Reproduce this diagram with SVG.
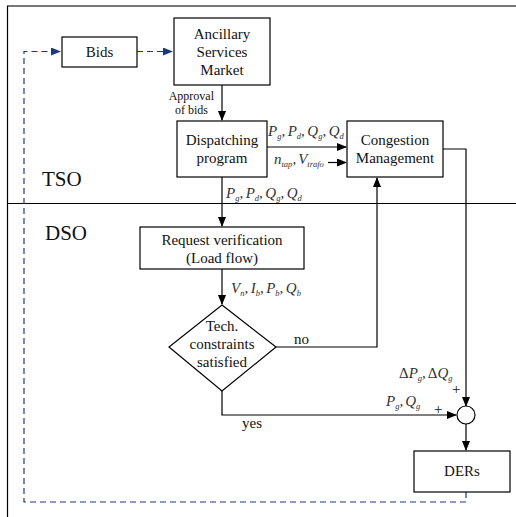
<svg xmlns="http://www.w3.org/2000/svg" width="516" height="517" viewBox="0 0 516 517">
  <style>
    .box { fill: #fff; stroke: #000; stroke-width: 1.2; }
    .line { fill: none; stroke: #000; stroke-width: 1.2; }
    .dash { fill: none; stroke: #1a3a7a; stroke-width: 1.2; stroke-dasharray: 6 4; }
  </style>
  <defs>
    <marker id="arr" markerWidth="10" markerHeight="8" refX="9" refY="4" orient="auto" markerUnits="userSpaceOnUse">
      <path d="M0,0 L10,4 L0,8 Z" fill="#000"/>
    </marker>
    <marker id="arrb" markerWidth="10" markerHeight="8" refX="9" refY="4" orient="auto" markerUnits="userSpaceOnUse">
      <path d="M0,0 L10,4 L0,8 Z" fill="#1a3a7a"/>
    </marker>
  </defs>

  <rect width="516" height="517" fill="#fff"/>

  <!-- frame and TSO / DSO boundary -->
  <g id="frame">
    <line x1="7" y1="6" x2="516" y2="6" stroke="#777" stroke-width="2"/>
    <line x1="7.5" y1="6" x2="7.5" y2="517" stroke="#000" stroke-width="1.2"/>
    <line x1="7" y1="203.5" x2="516" y2="203.5" stroke="#000" stroke-width="1.2"/>
    <text font-family="Liberation Serif" font-size="21" fill="#111" x="42" y="186">TSO</text>
    <text font-family="Liberation Serif" font-size="21" fill="#111" x="45" y="240">DSO</text>
  </g>

  <!-- connectors -->
  <g id="connectors">
    <path class="dash" d="M466,492 V502 H24 V51.5 H60" marker-end="url(#arrb)"/>
    <path class="dash" d="M137,51.5 H172" marker-end="url(#arrb)"/>
    <path class="line" d="M222,85 V120" marker-end="url(#arr)"/>
    <path class="line" d="M267,147 H346" marker-end="url(#arr)"/>
    <path class="line" d="M328,162.5 H346" marker-end="url(#arr)"/>
    <path class="line" d="M222,177 V226" marker-end="url(#arr)"/>
    <path class="line" d="M222,269 V304" marker-end="url(#arr)"/>
    <path class="line" d="M276,347 H377 V178" marker-end="url(#arr)"/>
    <path class="line" d="M222,391 V415 H456" marker-end="url(#arr)"/>
    <path class="line" d="M443,149 H466 V406" marker-end="url(#arr)"/>
    <path class="line" d="M466,424 V450" marker-end="url(#arr)"/>
    <g font-family="Liberation Serif" font-size="12" fill="#111" text-anchor="end">
      <text x="214" y="100">Approval</text>
      <text x="208" y="114">of bids</text>
    </g>
    <!-- variable labels: italic symbols with lowered subscripts -->
    <g font-family="Liberation Serif" font-style="italic" font-size="15" fill="#333">
      <text x="268" y="136">P<tspan font-size="8.5" dy="3">g</tspan><tspan dy="-3">,</tspan><tspan dx="2.5">P</tspan><tspan font-size="8.5" dy="3">d</tspan><tspan dy="-3">,</tspan><tspan dx="2.5">Q</tspan><tspan font-size="8.5" dy="3">g</tspan><tspan dy="-3">,</tspan><tspan dx="2.5">Q</tspan><tspan font-size="8.5" dy="3">d</tspan></text>
      <text x="274" y="164">n<tspan font-size="8.5" dy="3">tap</tspan><tspan dy="-3">,</tspan><tspan dx="2">V</tspan><tspan font-size="8.5" dy="3">trafo</tspan></text>
      <text x="226" y="198">P<tspan font-size="8.5" dy="3">g</tspan><tspan dy="-3">,</tspan><tspan dx="2.5">P</tspan><tspan font-size="8.5" dy="3">d</tspan><tspan dy="-3">,</tspan><tspan dx="2.5">Q</tspan><tspan font-size="8.5" dy="3">g</tspan><tspan dy="-3">,</tspan><tspan dx="2.5">Q</tspan><tspan font-size="8.5" dy="3">d</tspan></text>
      <text x="231" y="293">V<tspan font-size="8.5" dy="3">n</tspan><tspan dy="-3">,</tspan><tspan dx="2.5">I</tspan><tspan font-size="8.5" dy="3">b</tspan><tspan dy="-3">,</tspan><tspan dx="2.5">P</tspan><tspan font-size="8.5" dy="3">b</tspan><tspan dy="-3">,</tspan><tspan dx="2.5">Q</tspan><tspan font-size="8.5" dy="3">b</tspan></text>
      <text x="399" y="378"><tspan font-style="normal">Δ</tspan>P<tspan font-size="8.5" dy="3">g</tspan><tspan dy="-3">,</tspan><tspan dx="2" font-style="normal">Δ</tspan>Q<tspan font-size="8.5" dy="3">g</tspan></text>
      <text x="386" y="406">P<tspan font-size="8.5" dy="3">g</tspan><tspan dy="-3">,</tspan><tspan dx="2">Q</tspan><tspan font-size="8.5" dy="3">g</tspan></text>
    </g>
    <g font-family="Liberation Serif" font-size="15" fill="#111">
      <text x="294" y="344">no</text>
      <text x="242" y="428">yes</text>
      <text x="452" y="394">+</text>
      <text x="434" y="414">+</text>
    </g>
  </g>

  <!-- nodes -->
  <g font-family="Liberation Serif" font-size="15" fill="#111" text-anchor="middle">
  <g id="bids">
    <rect class="box" x="62" y="37" width="75" height="30"/>
    <text x="99.5" y="57">Bids</text>
  </g>
  <g id="market">
    <rect class="box" x="174" y="18" width="96" height="67"/>
    <text x="222" y="39">Ancillary</text>
    <text x="222" y="57">Services</text>
    <text x="222" y="75">Market</text>
  </g>
  <g id="dispatching">
    <rect class="box" x="177" y="121" width="90" height="56"/>
    <text x="222" y="145">Dispatching</text>
    <text x="222" y="163">program</text>
  </g>
  <g id="congestion">
    <rect class="box" x="347" y="121" width="96" height="56"/>
    <text x="395" y="145">Congestion</text>
    <text x="395" y="163">Management</text>
  </g>
  <g id="verification">
    <rect class="box" x="140" y="227" width="164" height="42"/>
    <text x="222" y="245">Request verification</text>
    <text x="222" y="263">(Load flow)</text>
  </g>
  <g id="constraints">
    <polygon class="box" points="222,305 276,347 222,391 169,347"/>
    <text x="222" y="331">Tech.</text>
    <text x="222" y="349">constraints</text>
    <text x="222" y="367">satisfied</text>
  </g>
  <g id="sum">
    <circle class="box" cx="466" cy="415" r="9"/>
  </g>
  <g id="ders">
    <rect class="box" x="414" y="451" width="96" height="41"/>
    <text x="462" y="476">DERs</text>
  </g>
  </g>
</svg>
